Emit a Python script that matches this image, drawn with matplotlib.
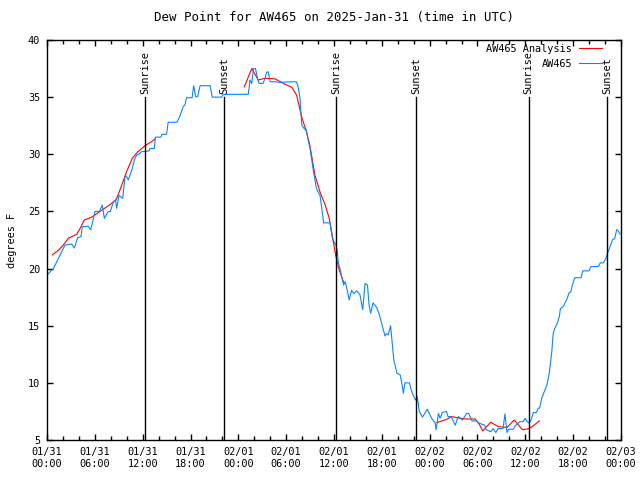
import matplotlib
matplotlib.use("Agg")
import matplotlib.pyplot as plt
import numpy as np
from datetime import datetime, timedelta

# hours since 2025-01-31 00:00 UTC
obs_hours = [0.08, 0.8, 2.26, 3.1, 3.43, 3.85, 4.26, 4.43, 5.18, 5.48, 5.94, 6.02, 6.57, 6.94,
             7.19, 7.69, 7.95, 8.32, 8.6, 8.74, 9.03, 9.5, 9.78, 9.95, 10.2, 10.7, 10.95, 11.25,
             11.5, 11.87, 12.3, 12.8, 12.9, 13.46, 13.6, 14.3, 14.4, 15.0, 15.2, 16.3, 16.7,
             17.1, 17.3, 17.5, 18.2, 18.4, 18.65, 18.9, 19.2, 20.45, 20.74, 21.9, 22.1, 22.4,
             25.25, 25.46, 25.68, 25.9, 26.15, 26.4, 26.6, 27.1, 27.35, 27.55, 27.75, 28.0,
             28.6, 29.0, 31.3, 31.5, 31.74, 31.95, 32.3, 32.5, 32.8, 33.0, 33.4, 33.8, 34.25,
             34.46, 34.7, 35.5, 35.8, 36.0, 36.25, 36.4, 36.55, 36.75, 36.97, 37.2, 37.4, 37.6,
             37.9, 38.2, 38.5, 38.85, 39.26, 39.6, 39.9, 40.2, 40.4, 40.6, 40.9, 41.35, 41.7,
             42.1, 42.4, 42.6, 42.8, 43.1, 43.3, 43.5, 43.9, 44.3, 44.5, 44.7, 44.9, 45.45,
             45.75, 46.2, 46.45, 46.7, 47.1, 47.7, 48.25, 48.7, 48.8, 49.1, 49.3, 49.6, 50.1,
             50.3, 50.7, 51.2, 51.6, 52.1, 52.65, 52.9, 53.3, 53.9, 54.2, 54.9, 55.1, 55.65,
             55.95, 56.3, 56.6, 57.2, 57.45, 57.7, 57.9, 58.5, 58.7, 59.3, 59.75, 59.96, 60.25,
             60.5, 60.8, 61.0, 61.4, 61.6, 61.8, 62.05, 62.3, 62.7, 63.0, 63.3, 63.5, 63.7,
             64.0, 64.26, 64.4, 64.75, 65.2, 65.5, 65.7, 65.9, 66.2, 67.0, 67.2, 68.0, 68.2,
             69.2, 69.4, 69.8, 70.1, 70.4, 70.7, 70.96, 71.2, 71.46, 71.65, 71.9]
obs_vals = [19.5, 20.0, 22.06, 22.15, 21.8, 22.7, 22.8, 23.67, 23.7, 23.4, 24.7, 25.0, 25.0, 25.56,
            24.4, 25.0, 25.0, 25.85, 26.0, 25.27, 26.4, 26.15, 28.0, 28.1, 27.75, 28.77, 29.5, 29.94,
            30.0, 30.23, 30.25, 30.3, 30.5, 30.5, 31.5, 31.5, 31.75, 31.75, 32.8, 32.8, 33.4,
            34.2, 34.3, 34.95, 34.95, 36.0, 35.04, 35.04, 36.0, 36.0, 35.0, 35.0, 35.24, 35.24,
            35.25, 36.5, 36.2, 37.5, 37.5, 36.65, 36.2, 36.2, 36.65, 37.2, 37.2, 36.35,
            36.35, 36.3, 36.35, 35.9, 34.9, 32.56, 32.2, 32.2, 31.1, 30.5, 28.6, 27.0, 26.4,
            25.27, 24.0, 24.0, 22.65, 22.35, 22.06, 21.6, 20.45, 20.0, 19.3, 18.56, 18.85, 18.3,
            17.25, 18.1, 17.8, 18.06, 17.7, 16.4, 18.7, 18.56, 16.8, 16.1, 17.0, 16.6, 15.94,
            14.9, 14.1, 14.3, 14.2, 15.0, 13.5, 12.0, 10.84, 10.7, 10.0, 9.1, 10.0, 10.0,
            9.23, 8.5, 8.8, 7.5, 7.0, 7.7, 6.9, 6.47, 5.9, 7.33, 6.9, 7.4, 7.5,
            7.05, 7.05, 6.3, 7.05, 6.75, 7.33, 7.33, 6.67, 6.67, 6.47, 6.3, 5.9, 5.73,
            6.0, 5.65, 6.0, 6.0, 7.28, 5.65, 5.94, 5.94, 6.23, 6.6, 6.6, 6.9, 6.6,
            6.47, 6.9, 7.4, 7.4, 7.78, 7.8, 8.65, 9.1, 9.8, 10.84, 12.6, 14.34, 14.78,
            15.2, 15.8, 16.5, 16.67, 17.3, 17.9, 17.95, 18.56, 19.2, 19.2, 19.8, 19.8, 20.16,
            20.2, 20.5, 20.5, 20.9, 21.5, 22.06, 22.56, 22.6, 23.4, 23.3, 23.0]

# analysis (gaps as nan)
ana_hours = [0.67, 1.42, 2.05, 2.68, 3.72, 4.14, 4.68, 5.6, 6.65, 7.7, 8.66, 9.16, 10.0, 10.7,
             11.37, 12.3, 13.1, 13.55, np.nan,
             24.75, 25.68, 26.5, 27.35, 28.6, 29.65, 30.7, 31.3, 31.7, 32.0, 32.6, 33.0, 33.6,
             34.25, 34.9, 35.4, 35.7, 36.2, 36.6, 37.2, np.nan,
             48.9, 50.1, 50.75, 51.8, 52.65, 53.7, 54.2, 54.65, 55.65, 56.6, 57.7, 58.6, 59.65,
             60.5, 61.1, 61.75]
ana_vals = [21.2, 21.6, 22.06, 22.65, 23.0, 23.5, 24.25, 24.5, 25.0, 25.5, 26.0, 26.9, 28.5, 29.65,
            30.2, 30.75, 31.1, 31.34, np.nan,
            35.9, 37.5, 36.5, 36.65, 36.6, 36.2, 35.86, 35.2, 34.0, 33.15, 31.84, 30.67, 28.2,
            26.7, 25.56, 24.4, 23.23, 21.2, 20.0, 18.8, np.nan,
            6.53, 6.8, 7.05, 6.9, 6.84, 6.84, 6.4, 5.8, 6.55, 6.17, 6.1, 6.75, 5.9,
            6.0, 6.3, 6.67]

sun_hours = [12.3, 22.2, 36.27, 46.33, 60.4, 70.27]
sun_labels = ["Sunrise", "Sunset", "Sunrise", "Sunset", "Sunrise", "Sunset"]

start = datetime(2025, 1, 31)
tick_hours = list(range(0, 73, 6))
tick_labels = [(start + timedelta(hours=h)).strftime("%m/%d\n%H:%M") for h in tick_hours]

plt.rcParams["font.family"] = ["DejaVu Sans Mono"]
plt.rcParams["font.size"] = 7.4

fig = plt.figure(figsize=(6.4, 4.8), dpi=100)
ax = fig.add_axes([47 / 640, 40 / 480, 574 / 640, 400 / 480])

ax.plot(ana_hours, ana_vals, color="#ff0000", lw=0.8, label="AW465 Analysis")
ax.plot(obs_hours, obs_vals, color="#0a84ff", lw=0.8, label="AW465")

# sunrise / sunset markers
for h, lab in zip(sun_hours, sun_labels):
    ax.axvline(h, ymin=0, ymax=0.8575, color="black", lw=1)
    ax.text(h, 0.865, lab, transform=ax.get_xaxis_transform(), rotation=90,
            ha="center", va="bottom", color="black")

ax.set_xlim(0, 72)
ax.set_ylim(5, 40)
ax.set_xticks(tick_hours)
ax.set_xticklabels(tick_labels)
ax.set_xticks(range(0, 73, 2), minor=True)
ax.set_yticks(range(5, 41, 5))
ax.tick_params(which="both", direction="in", top=True, right=True, width=1, pad=5)
ax.tick_params(which="major", length=4)
ax.tick_params(which="minor", length=3)
ax.tick_params(axis="y", which="minor", left=False, right=False)
for s in ax.spines.values():
    s.set_linewidth(1)

ax.set_ylabel("degrees F", labelpad=8)
ax.set_title("Dew Point for AW465 on 2025-Jan-31 (time in UTC)", pad=14)

ax.legend(loc="upper right", bbox_to_anchor=(0.9704, 0.995), frameon=False,
          markerfirst=False, handlelength=2.2, handletextpad=0.7, labelspacing=0.45,
          borderaxespad=0, borderpad=0.2, fontsize=7.4)

fig.savefig("out.png", dpi=100)
